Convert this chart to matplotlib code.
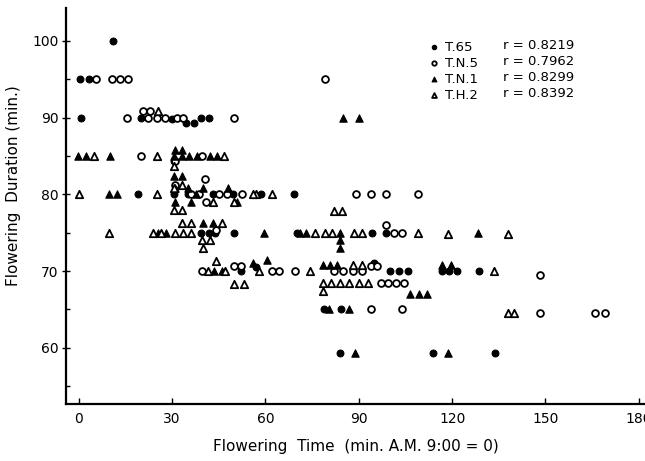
import numpy as np
import matplotlib
matplotlib.use("Agg")
import matplotlib.pyplot as plt
from matplotlib.ticker import MultipleLocator

# flowering time (min after 9:00 AM) vs flowering duration (min)

# T.65 - filled circles
t65_x = [11, 0.3, 3.2, 0.6, 20, 30, 39.4, 41.7, 34.3, 36.9,
         30.5, 18.9, 30.5, 35, 43, 49.5, 58.6, 69.2,
         39.4, 41.7, 43.9, 50, 70, 94.2, 98.7,
         52, 57, 95, 100, 103, 105.7, 116.7, 119, 121.5, 128.5,
         78.8, 84.3, 84, 113.8, 133.7]
t65_y = [100, 95, 95, 90, 90, 89.8, 90, 90, 89.3, 89.3,
         84.3, 80, 80, 80, 80, 80, 80, 80,
         75, 75, 75, 75, 75, 75, 75,
         70, 70.5, 71, 70, 70, 70, 70, 70, 70, 70,
         65, 65, 59.3, 59.3, 59.3]

# T.N.5 - open circles
tn5_x = [5.4, 10.6, 13.1, 15.7, 79,
         15.4, 22.1, 25, 27.6, 31.7, 33.5, 50, 20.5, 22.8,
         19.9, 39.7, 31,
         40.5, 31, 36, 38.5, 41, 45, 47.5, 52.5, 89, 94, 98.7, 109,
         98.7, 101.3, 104, 44,
         39.7, 49.8, 52, 62.2, 64.4, 69.6, 82, 85, 88, 91, 94, 96,
         97, 99.5, 102, 104.5, 148.4,
         94, 104, 148.4, 166, 169]
tn5_y = [95, 95, 95, 95, 95,
         90, 90, 90, 90, 90, 90, 90, 90.8, 90.8,
         85, 85, 84.3,
         82, 81.2, 80, 80, 79, 80, 80, 80, 80, 80, 80, 80,
         76, 75, 75, 75.3,
         70, 70.7, 70.7, 70, 70, 70, 70, 70, 70, 70, 70.7, 70.7,
         68.4, 68.4, 68.4, 68.4, 69.5,
         65, 65, 64.5, 64.5, 64.5]

# T.N.1 - filled triangles
tn1_x = [85, 90,
         -0.3, 2.2, 10, 30.5, 33, 35.5, 38, 30.8, 33, 42, 44.5,
         31, 35, 37.5, 40, 9.6, 12.2, 30.5, 33, 31, 36, 48, 51,
         25.3, 28, 40, 43, 59.6, 71, 73, 84, 84, 84, 128.2,
         78.5, 80.8, 83, 106.5, 109.5, 112, 116.7, 119.6, 43.5, 46, 56, 60.5,
         80.4, 86.9, 88.8, 118.6]
tn1_y = [90, 90,
         85, 85, 85, 85, 85, 85, 85, 85.8, 85.8, 85, 85,
         80.8, 80.8, 80, 80.8, 80, 80, 82.4, 82.4, 79, 79, 80.8, 79,
         75, 75, 76.2, 76.2, 75, 75, 75, 75, 74, 73, 75,
         70.8, 70.8, 70.8, 67, 67, 67, 70.8, 70.8, 70, 70, 71, 71.5,
         65, 65, 59.3, 59.3]

# T.H.2 - open triangles
th2_x = [25.3,
         4.8, 25, 30.6, 46.8,
         0, 25, 57, 62, 30.5, 33, 30.5, 33, 43, 50, 56,
         9.6, 23.8, 26.3, 31, 33.5, 36, 33, 36, 39.5, 40, 42, 46,
         76, 79, 81.5, 82, 84.5, 88.5, 91, 109, 118.6, 138,
         41.5, 44, 47, 50, 53, 58, 74.4, 78.5, 81, 84, 87, 90, 93,
         78.5, 88, 91, 133.3,
         138, 140]
th2_y = [90.8,
         85, 85, 83.7, 85,
         80, 80, 80, 80, 77.9, 77.9, 80.8, 81.2, 79, 79, 80,
         75, 75, 75, 75, 75, 75, 76.2, 76.2, 74, 73, 74, 76.2,
         75, 75, 75, 77.8, 77.8, 75, 75, 75, 74.8, 74.8,
         70, 71.3, 70, 68.3, 68.3, 70, 70, 68.4, 68.4, 68.4, 68.4, 68.4, 68.4,
         67.4, 70.8, 70.8, 70,
         64.5, 64.5]

labels = ["T.65", "T.N.5", "T.N.1", "T.H.2"]
r_values = ["r = 0.8219", "r = 0.7962", "r = 0.8299", "r = 0.8392"]

plt.rcParams['font.family'] = ['DejaVu Sans']

fig = plt.figure(figsize=(6.45, 4.61), dpi=100)
ax = fig.add_axes([0.102, 0.124, 0.898, 0.859])

ms = 24
ax.scatter(t65_x, t65_y, s=ms, marker='o', c='black', edgecolors='black', linewidths=0.8, label=labels[0])
ax.scatter(tn5_x, tn5_y, s=ms, marker='o', facecolors='white', edgecolors='black', linewidths=1.3, label=labels[1])
ax.scatter(tn1_x, tn1_y, s=ms + 4, marker='^', c='black', edgecolors='black', linewidths=0.8, label=labels[2])
ax.scatter(th2_x, th2_y, s=ms + 4, marker='^', facecolors='white', edgecolors='black', linewidths=1.3, label=labels[3])

ax.set_xlim(-4.2, 182)
ax.set_ylim(52.7, 104.3)

ax.xaxis.set_major_locator(MultipleLocator(30))
ax.yaxis.set_major_locator(MultipleLocator(10))
ax.yaxis.set_minor_locator(MultipleLocator(5))
ax.tick_params(axis='x', direction='in', length=4, width=1, labelsize=10, pad=6)
ax.tick_params(axis='y', which='major', direction='inout', length=6, width=1, labelsize=10, pad=2)
ax.tick_params(axis='y', which='minor', direction='in', length=3, width=1)

for side in ['top', 'right']:
    ax.spines[side].set_visible(False)
for side in ['left', 'bottom']:
    ax.spines[side].set_linewidth(1.6)

ax.set_xlabel("Flowering  Time  (min. A.M. 9:00 = 0)", fontsize=11, labelpad=9)
ax.set_ylabel("Flowering  Duration (min.)", fontsize=11, labelpad=14)
ax.yaxis.set_label_coords(-0.078, 0.55)

leg = ax.legend(loc='upper left', bbox_to_anchor=(0.615, 0.93), frameon=False, fontsize=9.5,
                handletextpad=0.35, labelspacing=0.22, borderaxespad=0, handlelength=1.0,
                markerscale=0.65)
# r values in a second column next to the legend names
for i, r in enumerate(r_values):
    ax.text(0.755, 0.906 - i * 0.0405, r, transform=ax.transAxes, fontsize=9.5, va='center')

fig.savefig("out.png", dpi=100)
